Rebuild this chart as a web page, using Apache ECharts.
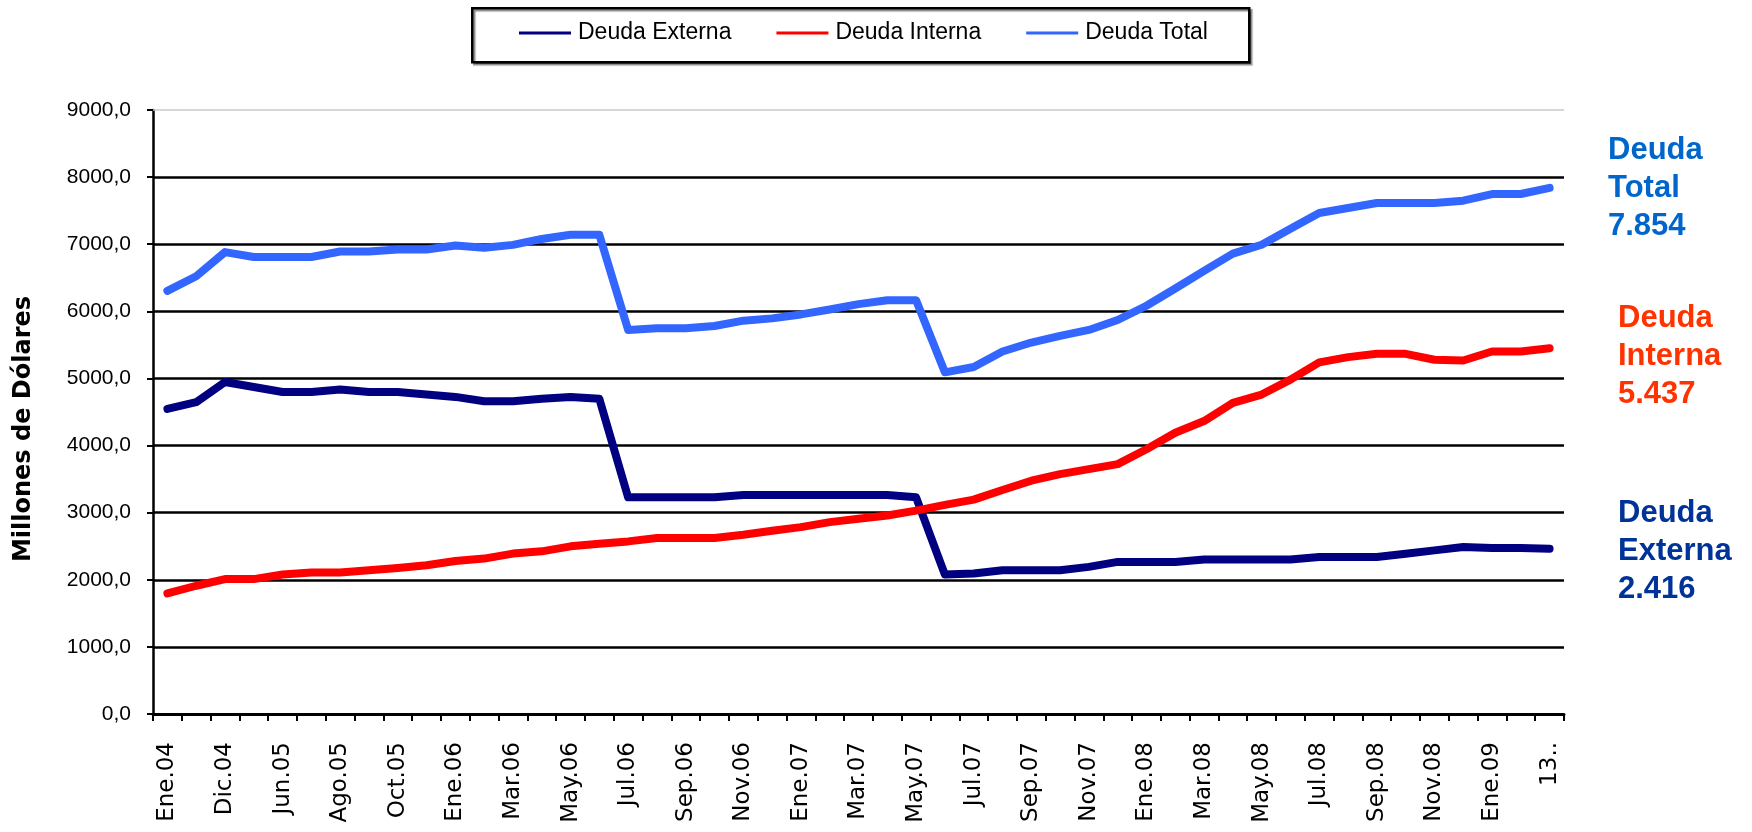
<!DOCTYPE html>
<html><head><meta charset="utf-8">
<script src="https://cdn.jsdelivr.net/npm/echarts@6/dist/echarts.min.js"></script>
<style>html,body{margin:0;padding:0;background:#fff}#c{width:1752px;height:832px}</style>
</head><body><div id="c"></div>
<script>
const categories = ['Ene.04','Jun.04','Dic.04','Mar.05','Jun.05','Jul.05','Ago.05','Sep.05','Oct.05','Nov.05',
  'Ene.06','Feb.06','Mar.06','Abr.06','May.06','Jun.06','Jul.06','Ago.06','Sep.06','Oct.06',
  'Nov.06','Dic.06','Ene.07','Feb.07','Mar.07','Abr.07','May.07','Jun.07','Jul.07','Ago.07',
  'Sep.07','Oct.07','Nov.07','Dic.07','Ene.08','Feb.08','Mar.08','Abr.08','May.08','Jun.08',
  'Jul.08','Ago.08','Sep.08','Oct.08','Nov.08','Dic.08','Ene.09','Feb.09','13..'];
const deudaExterna = [4547,4646,4947,4873,4799,4799,4834,4799,4799,4760,
  4725,4661,4661,4696,4725,4696,3229,3229,3229,3229,
  3264,3264,3264,3264,3264,3264,3229,2078,2093,2143,
  2143,2143,2192,2266,2266,2266,2301,2301,2301,2301,
  2340,2340,2340,2389,2438,2488,2473,2473,2463];
const deudaInterna = [1797,1911,2010,2010,2078,2108,2108,2143,2177,2217,
  2281,2316,2390,2424,2498,2538,2572,2622,2622,2622,
  2671,2730,2785,2859,2908,2958,3031,3115,3194,3337,
  3476,3575,3649,3723,3945,4192,4365,4637,4760,4982,
  5239,5318,5367,5367,5278,5268,5402,5402,5450];
const deudaTotal = [6305,6523,6883,6809,6809,6809,6892,6892,6922,6922,
  6981,6947,6990,7079,7140,7140,5723,5748,5748,5782,
  5861,5895,5954,6028,6107,6166,6166,5091,5170,5402,
  5535,5634,5723,5871,6083,6340,6602,6859,6992,7229,
  7466,7540,7614,7614,7614,7649,7748,7748,7840];
const seriesNames = ['Deuda Externa','Deuda Interna','Deuda Total'];
const endLabels = ['Deuda\nTotal\n7.854','Deuda\nInterna\n5.437','Deuda\nExterna\n2.416'];
const yTitle = 'Millones de Dólares';

const sans = "'Liberation Sans',Arial,sans-serif";
const chart = echarts.init(document.getElementById('c'), null, {renderer:'canvas'});
const lineCommon = {type:'line', symbol:'none', smooth:false, animation:false,
  lineStyle:{width:8, cap:'round', join:'round'}};
chart.setOption({
  animation:false,
  backgroundColor:'#fff',
  grid:{left:153, right:188, top:110, bottom:118, containLabel:false},
  legend:{
    data:seriesNames, left:519, top:18, icon:'rect', itemWidth:52, itemHeight:3, itemGap:45,
    padding:0, selectedMode:false,
    textStyle:{fontFamily:sans, fontSize:23, color:'#000', lineHeight:30, padding:[0,0,0,2]}
  },
  xAxis:{
    type:'category', data:categories, boundaryGap:true,
    axisLine:{show:true, lineStyle:{color:'#000', width:3}},
    axisTick:{show:true, interval:0, length:7, lineStyle:{color:'#000', width:2}},
    axisLabel:{interval:1, rotate:90, margin:28, color:'#000', fontFamily:'DejaVu Sans', fontSize:23},
    splitLine:{show:false}
  },
  yAxis:{
    type:'value', min:0, max:9000, interval:1000,
    axisLine:{show:true, lineStyle:{color:'#000', width:2.5}},
    axisTick:{show:true, length:6, lineStyle:{color:'#000', width:2}},
    axisLabel:{formatter:v => v + ',0', margin:22, color:'#000', fontFamily:sans, fontSize:21},
    splitLine:{show:true, showMaxLine:false, lineStyle:{color:'#000', width:2.5}}
  },
  series:[
    Object.assign({}, lineCommon, {name:seriesNames[0], data:deudaExterna, color:'#000080'}),
    Object.assign({}, lineCommon, {name:seriesNames[1], data:deudaInterna, color:'#FF0000'}),
    Object.assign({}, lineCommon, {name:seriesNames[2], data:deudaTotal, color:'#3366FF',
      markLine:{silent:true, symbol:['none','none'], label:{show:false}, animation:false,
        lineStyle:{color:'#c8c8c8', width:1.5, type:'solid'}, data:[{yAxis:9000}]}})
  ],
  graphic:[
    {type:'rect', left:471, top:7, shape:{width:777, height:54}, z:-1,
      style:{fill:'#fff', stroke:'#000', lineWidth:2.5, shadowColor:'rgba(0,0,0,0.45)', shadowOffsetX:2, shadowOffsetY:2, shadowBlur:1}},
    {type:'text', x:24, y:429, rotation:Math.PI/2,
      style:{text:yTitle, font:"bold 24px 'DejaVu Sans'", fill:'#000', align:'center', verticalAlign:'middle', textAlign:'center', textVerticalAlign:'middle'}},
    {type:'text', x:1608, y:131,
      style:{text:endLabels[0], font:"bold 31px 'Liberation Sans'", lineHeight:38, fill:'#0066CC', align:'left', verticalAlign:'top'}},
    {type:'text', x:1618, y:299,
      style:{text:endLabels[1], font:"bold 31px 'Liberation Sans'", lineHeight:38, fill:'#FF3300', align:'left', verticalAlign:'top'}},
    {type:'text', x:1618, y:494,
      style:{text:endLabels[2], font:"bold 31px 'Liberation Sans'", lineHeight:38, fill:'#003399', align:'left', verticalAlign:'top'}}
  ]
});
</script></body></html>
